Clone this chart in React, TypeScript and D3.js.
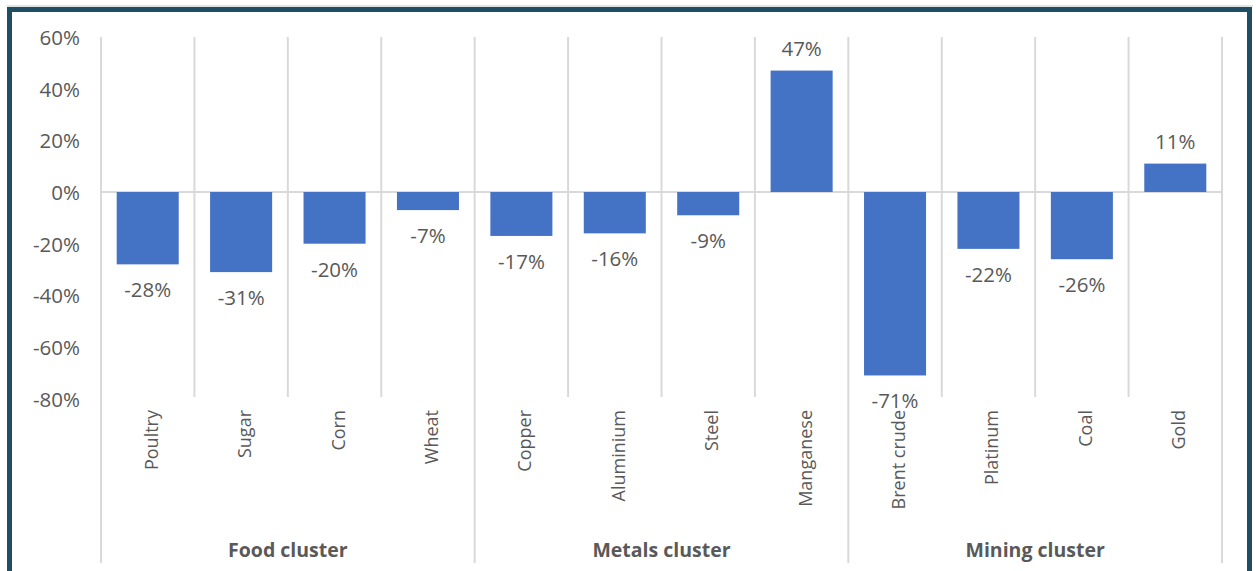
import React from "react";
import * as d3 from "d3";

const categories = ["Poultry", "Sugar", "Corn", "Wheat", "Copper", "Aluminium", "Steel", "Manganese", "Brent crude", "Platinum", "Coal", "Gold"];
const values = [-28, -31, -20, -7, -17, -16, -9, 47, -71, -22, -26, 11];
const clusters = ["Food cluster", "Metals cluster", "Mining cluster"];
const clusterOf = [0, 0, 0, 0, 1, 1, 1, 1, 2, 2, 2, 2];
const yTicks = [60, 40, 20, 0, -20, -40, -60, -80];

const W = 1256;
const H = 571;
const FONT = "'Open Sans', 'Noto Sans', sans-serif";
const TEXT = "#595959";
const GRID = "#d9d9d9";

export default function App() {
  const x = d3.scaleBand<string>().domain(categories).range([101, 1222]).paddingInner(0.336).paddingOuter(0.168);
  const y = d3.scaleLinear().domain([-80, 60]).range([398.7, 37]);
  const step = x.step();
  const left = 101;
  const right = 1222;
  const bound = (i: number) => left + i * step;

  const clusterStarts = clusters.map((_, c) => clusterOf.indexOf(c));
  const clusterEnds = clusters.map((_, c) => clusterOf.lastIndexOf(c) + 1);

  return (
    <div style={{ position: "absolute", left: 0, top: 0 }}>
      <svg width={W} height={H} style={{ display: "block", background: "#fff" }}>
        {/* frame */}
        <line x1={7} x2={1253} y1={6} y2={6} stroke="#c8c8c8" strokeWidth={1} />
        <rect x={9.5} y={9.5} width={1240} height={620} fill="none" stroke="#1d4e63" strokeWidth={5} />

        {/* vertical gridlines */}
        {d3.range(categories.length + 1).map((i) => {
          const isCluster = i === 0 || i === categories.length || clusterStarts.includes(i);
          return (
            <line
              key={"g" + i}
              x1={bound(i)}
              x2={bound(i)}
              y1={y(60)}
              y2={isCluster ? 563 : 397}
              stroke={GRID}
              strokeWidth={2}
            />
          );
        })}

        {/* zero axis */}
        <line x1={left} x2={right} y1={y(0)} y2={y(0)} stroke={GRID} strokeWidth={2} />

        {/* y tick labels */}
        {yTicks.map((t) => (
          <text
            key={"t" + t}
            x={80}
            y={y(t)}
            textAnchor="end"
            dominantBaseline="central"
            fontFamily={FONT}
            fontSize={20.5}
            fill={TEXT}
          >
            {t + "%"}
          </text>
        ))}

        {/* bars */}
        {categories.map((c, i) => {
          const v = values[i];
          const y0 = y(Math.max(0, v));
          const y1 = y(Math.min(0, v));
          return (
            <rect key={"b" + c} x={x(c)} y={y0} width={x.bandwidth()} height={y1 - y0} fill="#4472C4" />
          );
        })}

        {/* data labels */}
        {categories.map((c, i) => {
          const v = values[i];
          const cx = (x(c) as number) + x.bandwidth() / 2;
          const ly = v >= 0 ? y(v) - 15 : y(v) + 33;
          return (
            <text key={"l" + c} x={cx} y={ly} textAnchor="middle" fontFamily={FONT} fontSize={20.5} fill={TEXT}>
              {v + "%"}
            </text>
          );
        })}

        {/* category labels */}
        {categories.map((c) => {
          const cx = (x(c) as number) + x.bandwidth() / 2 + 3;
          return (
            <text
              key={"c" + c}
              transform={`translate(${cx},410) rotate(-90)`}
              textAnchor="end"
              dominantBaseline="central"
              fontFamily={FONT}
              fontSize={18}
              fill={TEXT}
            >
              {c}
            </text>
          );
        })}

        {/* cluster labels */}
        {clusters.map((name, ci) => (
          <text
            key={"k" + name}
            x={(bound(clusterStarts[ci]) + bound(clusterEnds[ci])) / 2}
            y={557}
            textAnchor="middle"
            fontFamily={FONT}
            fontSize={19.5}
            fontWeight="bold"
            fill={TEXT}
          >
            {name}
          </text>
        ))}
      </svg>
    </div>
  );
}
